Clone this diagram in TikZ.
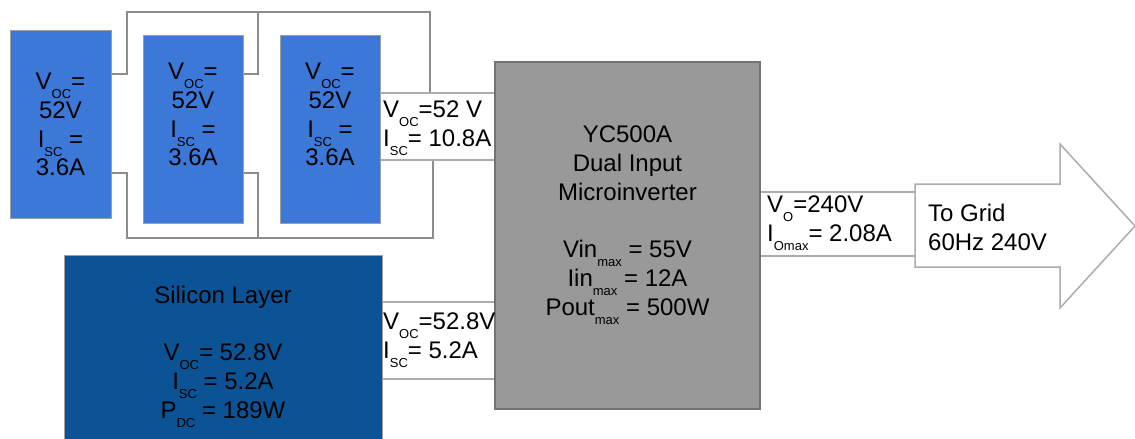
\documentclass[tikz,border=0pt]{standalone}
\usepackage{fontspec}
\setmainfont{Liberation Sans}
\usetikzlibrary{positioning}

\definecolor{panelblue}{HTML}{3C78D8}
\definecolor{silblue}{HTML}{0B5394}
\definecolor{invgray}{HTML}{999999}
\definecolor{wiregray}{HTML}{8C8C8C}

\newcommand{\lsub}[1]{\raisebox{-9pt}{\fontsize{13}{13}\selectfont #1}}

\begin{document}
\begin{tikzpicture}[
  x=1pt, y=-1pt,
  % --- shared block base ---
  blkbase/.style={inner sep=0pt, line width=1pt},
  % --- block types ---
  panel/.style={blkbase, draw=gray!75, fill=panelblue, minimum width=100, minimum height=188},
  silicon/.style={blkbase, draw=gray!75, fill=silblue, minimum width=318, minimum height=205},
  inverter/.style={blkbase, draw=black!55, line width=1.5pt, fill=invgray, minimum width=265, minimum height=347},
  % --- labels ---
  txt/.style={font=\fontsize{24}{28.8}\selectfont, inner sep=0pt, align=center, anchor=north},
  ltxt/.style={txt, align=left, anchor=north west},
  % --- lines ---
  wire/.style={draw=wiregray, line width=2pt},
  lbl/.style={draw=gray!65, line width=1.5pt},
  gridarrow/.style={draw=gray!65, line width=1.5pt, fill=white, line join=miter},
]
\clip (0,0) rectangle (1135,439);
\useasboundingbox (0,0) rectangle (1135,439);

% ===================== MODULES =====================

\node[panel, minimum width=101] (p1) at (60.5,124) {};
\node[panel] (p2) at (193,129) {};
\node[panel] (p3) at (330,129) {};

\node[txt] (t1) at (60.5,72.8) {V\lsub{OC}=\\52V\\I\lsub{SC} =\\3.6A};
\node[txt] (t2) at (193,62.8) {V\lsub{OC}=\\52V\\I\lsub{SC} =\\3.6A};
\node[txt] (t3) at (330,62.8) {V\lsub{OC}=\\52V\\I\lsub{SC} =\\3.6A};

% parallel wiring
\draw[wire] (p1.east |- 0,74) -| (127,12) -- (430,12) -- (430,93);
\draw[wire] (p2.east |- 0,74) -| (258,12);
\draw[wire] (p1.east |- 0,173) -| (127,238) -- (433,238) -- (433,160);
\draw[wire] (p2.east |- 0,173) -| (258,238);

% ===================== SILICON LAYER =====================

\node[silicon] (si) at (223,357.5) {};
\node[txt] (tsi) at (223,285.5)
  {Silicon Layer\\[28.8pt]V\lsub{OC}= 52.8V\\I\lsub{SC} = 5.2A\\P\lsub{DC} = 189W};

% ===================== MICROINVERTER =====================

\node[inverter] (inv) at (627.5,235.5) {};
\node[txt] (tinv) at (627.5,125.8)
  {YC500A\\Dual Input\\Microinverter\\[28.8pt]Vin\lsub{max} = 55V\\Iin\lsub{max} = 12A\\Pout\lsub{max} = 500W};

% input 1
\draw[lbl] (p3.east |- 0,93) -- (inv.west |- 0,93);
\draw[lbl] (p3.east |- 0,160) -- (inv.west |- 0,160);
\node[ltxt] (in1) at (383,100.8) {V\lsub{OC}=52 V\\I\lsub{SC}= 10.8A};

% input 2
\draw[lbl] (si.east |- 0,302) -- (inv.west |- 0,302);
\draw[lbl] (si.east |- 0,379) -- (inv.west |- 0,379);
\node[ltxt] (in2) at (383,312.8) {V\lsub{OC}=52.8V\\I\lsub{SC}= 5.2A};

% ===================== GRID =====================

\coordinate (grid) at (915,226);
\draw[gridarrow] (grid |- 0,184) -- (1060,184) -- (1060,144) -- (1135,226)
  -- (1060,308) -- (1060,267) -- (grid |- 0,267) -- cycle;
\node[ltxt] (tgrid) at (928,203.8) {To Grid\\60Hz 240V};

% output
\draw[lbl] (inv.east |- 0,192) -- (grid |- 0,192);
\draw[lbl] (inv.east |- 0,256) -- (grid |- 0,256);
\node[ltxt] (out) at (767,195.8) {V\lsub{O}=240V\\I\lsub{Omax}= 2.08A};

\end{tikzpicture}
\end{document}
